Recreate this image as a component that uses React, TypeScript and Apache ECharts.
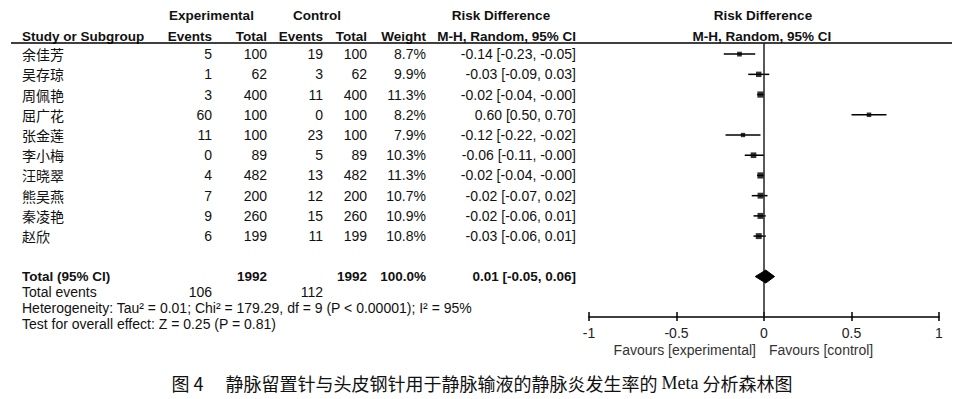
import React, { useEffect, useRef } from "react";
import * as echarts from "echarts";

// ---- data ----
const studies = ["余佳芳", "吴存琼", "周佩艳", "屈广花", "张金莲", "李小梅", "汪晓翠", "熊吴燕", "秦凌艳", "赵欣"];
const expEvents = [5, 1, 3, 60, 11, 0, 4, 7, 9, 6];
const expTotal = [100, 62, 400, 100, 100, 89, 482, 200, 260, 199];
const ctrlEvents = [19, 3, 11, 0, 23, 5, 13, 12, 15, 11];
const ctrlTotal = [100, 62, 400, 100, 100, 89, 482, 200, 260, 199];
const weights = [8.7, 9.9, 11.3, 8.2, 7.9, 10.3, 11.3, 10.7, 10.9, 10.8];
const riskDiff = [-0.14, -0.03, -0.02, 0.6, -0.12, -0.06, -0.02, -0.02, -0.02, -0.03];
const ciLow = [-0.23, -0.09, -0.04, 0.5, -0.22, -0.11, -0.04, -0.07, -0.06, -0.06];
const ciHigh = [-0.05, 0.03, -0.0, 0.7, -0.02, -0.0, -0.0, 0.02, 0.01, 0.01];

const totalExp = 1992;
const totalCtrl = 1992;
const totalWeight = 100.0;
const totalEventsExp = 106;
const totalEventsCtrl = 112;
const pooled = { est: 0.01, low: -0.05, high: 0.06 };

const xTicks = [-1, -0.5, 0, 0.5, 1];
const heterogeneityText = "Heterogeneity: Tau² = 0.01; Chi² = 179.29, df = 9 (P < 0.00001); I² = 95%";
const overallText = "Test for overall effect: Z = 0.25 (P = 0.81)";
const totalRowIndex = 11;

const FONT = '"Liberation Sans", Arial, sans-serif';
const CJK = '"Noto Sans CJK SC", sans-serif';
const INK = "#111";
const FS = 14;
const FS_BOLD = 13.5;

const fmt = (v: number) => ((v < 0 || Object.is(v, -0)) ? "-" : "") + Math.abs(v).toFixed(2);
const rdLabel = (e: number, l: number, h: number) => `${fmt(e)} [${fmt(l)}, ${fmt(h)}]`;

export default function App() {
  const ref = useRef<HTMLDivElement>(null);

  useEffect(() => {
    if (!ref.current) return;
    const chart = echarts.init(ref.current, null, { renderer: "svg" });

    const option: any = {
      animation: false,
      backgroundColor: "#fff",
      grid: { left: 589, right: 21, top: 43, bottom: 82, containLabel: false },
      xAxis: [
        {
          type: "value",
          min: xTicks[0],
          max: xTicks[xTicks.length - 1],
          interval: 0.5,
          axisLine: { onZero: false, lineStyle: { color: "#000", width: 1.5 } },
          axisTick: { inside: true, length: 5, lineStyle: { color: "#000", width: 1.5 } },
          axisLabel: {
            margin: 9,
            fontFamily: FONT,
            fontSize: FS,
            color: "#222",
            formatter: (v: number) => String(v),
          },
          splitLine: { show: false },
        },
        {
          type: "value",
          min: xTicks[0],
          max: xTicks[xTicks.length - 1],
          interval: 0.5,
          position: "bottom",
          axisLine: { show: false, onZero: false },
          axisTick: { inside: false, length: 4, lineStyle: { color: "#000", width: 1.5 } },
          axisLabel: { show: false },
          splitLine: { show: false },
        },
      ],
      yAxis: { type: "value", inverse: true, min: -0.55, max: 13, show: false },
      series: [
        {
          type: "custom",
          xAxisIndex: 0,
          encode: { x: [0, 1], y: 2 },
          data: studies.map((_, i) => [ciLow[i], ciHigh[i], i]),
          renderItem: (params: any, api: any) => {
            const p1 = api.coord([api.value(0), api.value(2)]);
            const p2 = api.coord([api.value(1), api.value(2)]);
            return {
              type: "line",
              shape: { x1: p1[0], y1: p1[1], x2: p2[0], y2: p2[1] },
              style: { stroke: "#000", lineWidth: 1.5 },
            };
          },
          silent: true,
          z: 3,
        },
        {
          type: "scatter",
          xAxisIndex: 0,
          symbol: "rect",
          symbolSize: (val: number[]) => val[2] * 0.55,
          itemStyle: { color: "#000" },
          data: studies.map((_, i) => [riskDiff[i], i, weights[i]]),
          silent: true,
          z: 4,
          markLine: {
            silent: true,
            symbol: "none",
            label: { show: false },
            lineStyle: { color: "#222", width: 1.5, type: "solid" },
            data: [{ xAxis: 0 }],
          },
        },
        {
          type: "custom",
          xAxisIndex: 0,
          encode: { x: [0, 1, 2], y: 3 },
          data: [[pooled.low, pooled.est, pooled.high, totalRowIndex]],
          renderItem: (params: any, api: any) => {
            const r = api.value(3);
            const a = api.coord([api.value(0), r]);
            const c = api.coord([api.value(1), r]);
            const b = api.coord([api.value(2), r]);
            return {
              type: "polygon",
              shape: { points: [a, [c[0], c[1] - 6.5], b, [c[0], c[1] + 6.5]] },
              style: { fill: "#000", stroke: "#000", lineWidth: 1 },
            };
          },
          silent: true,
          z: 5,
        },
      ],
    };
    chart.setOption(option);

    const rowY = (i: number) => chart.convertToPixel({ yAxisIndex: 0 }, i) as number;

    const txt = (text: string, x: number, y: number, align: string, opts: any = {}) => ({
      type: "text",
      silent: true,
      style: {
        text,
        x,
        y,
        align,
        verticalAlign: "middle",
        fontFamily: opts.family || FONT,
        fontSize: opts.size || (opts.bold ? FS_BOLD : FS),
        fontWeight: opts.bold ? "bold" : "normal",
        fill: opts.color || INK,
      },
    });

    const col = { name: 22, expE: 212, expT: 267, ctlE: 323, ctlT: 367, w: 426, rd: 576 };
    const H1 = 15;
    const H2 = 36;
    const els: any[] = [];
    // headers
    els.push(txt("Experimental", 211.5, H1, "center", { bold: true }));
    els.push(txt("Control", 317, H1, "center", { bold: true }));
    els.push(txt("Risk Difference", 501, H1, "center", { bold: true }));
    els.push(txt("Risk Difference", 763, H1, "center", { bold: true }));
    els.push(txt("Study or Subgroup", col.name, H2, "left", { bold: true }));
    els.push(txt("Events", col.expE, H2, "right", { bold: true }));
    els.push(txt("Total", col.expT, H2, "right", { bold: true }));
    els.push(txt("Events", col.ctlE, H2, "right", { bold: true }));
    els.push(txt("Total", col.ctlT, H2, "right", { bold: true }));
    els.push(txt("Weight", col.w, H2, "right", { bold: true }));
    els.push(txt("M-H, Random, 95% CI", col.rd, H2, "right", { bold: true }));
    els.push(txt("M-H, Random, 95% CI", 762, H2, "center", { bold: true }));
    els.push({
      type: "line",
      silent: true,
      shape: { x1: 11, y1: 43, x2: 952, y2: 43 },
      style: { stroke: "#000", lineWidth: 1.5 },
    });
    // rows
    studies.forEach((s, i) => {
      const y = rowY(i);
      els.push(txt(s, col.name, y, "left", { family: CJK, size: 14 }));
      els.push(txt(String(expEvents[i]), col.expE, y, "right"));
      els.push(txt(String(expTotal[i]), col.expT, y, "right"));
      els.push(txt(String(ctrlEvents[i]), col.ctlE, y, "right"));
      els.push(txt(String(ctrlTotal[i]), col.ctlT, y, "right"));
      els.push(txt(weights[i].toFixed(1) + "%", col.w, y, "right"));
      els.push(txt(rdLabel(riskDiff[i], ciLow[i], ciHigh[i]), col.rd, y, "right"));
    });
    // totals
    const ty = rowY(totalRowIndex);
    els.push(txt("Total (95% CI)", col.name, ty, "left", { bold: true }));
    els.push(txt(String(totalExp), col.expT, ty, "right", { bold: true }));
    els.push(txt(String(totalCtrl), col.ctlT, ty, "right", { bold: true }));
    els.push(txt(totalWeight.toFixed(1) + "%", col.w, ty, "right", { bold: true }));
    els.push(txt(rdLabel(pooled.est, pooled.low, pooled.high), col.rd, ty, "right", { bold: true }));
    els.push(txt("Total events", col.name, 292, "left"));
    els.push(txt(String(totalEventsExp), col.expE, 292, "right"));
    els.push(txt(String(totalEventsCtrl), col.ctlE, 292, "right"));
    els.push(txt(heterogeneityText, col.name, 308, "left"));
    els.push(txt(overallText, col.name, 324, "left"));
    // favours
    els.push(txt("Favours [experimental]", 756, 350, "right", { color: "#333" }));
    els.push(txt("Favours [control]", 769, 350, "left", { color: "#333" }));
    // caption
    els.push({
      type: "text",
      silent: true,
      style: {
        text: "图 4　 静脉留置针与头皮钢针用于静脉输液的静脉炎发生率的 {m|Meta} 分析森林图",
        x: 482,
        y: 383,
        align: "center",
        verticalAlign: "middle",
        fontFamily: CJK,
        fontSize: 18,
        fill: "#111",
        rich: { m: { fontFamily: '"Liberation Serif", serif', fontSize: 18, fill: "#111" } },
      },
    });

    chart.setOption({ graphic: { elements: els } });

    return () => chart.dispose();
  }, []);

  return (
    <div
      ref={ref}
      style={{ position: "fixed", left: 0, top: 0, width: 960, height: 399, background: "#fff" }}
    />
  );
}
